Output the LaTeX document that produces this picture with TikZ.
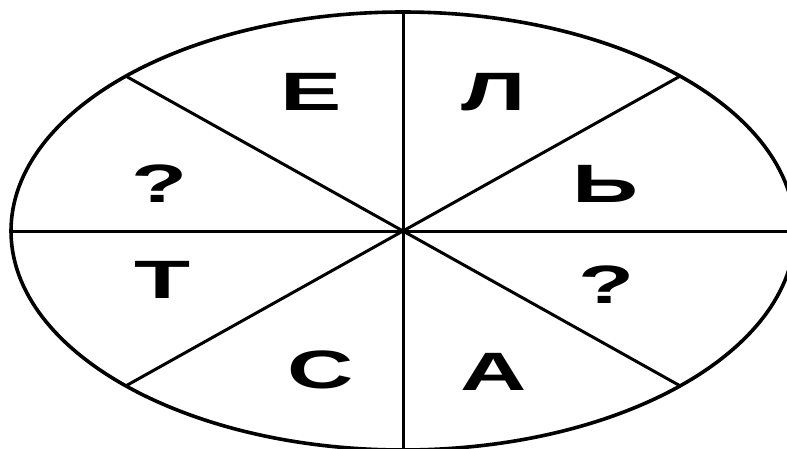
\documentclass[tikz,border=0pt]{standalone}
\usepackage{fontspec}
\newfontfamily\letterfont[FakeStretch=1.7]{Liberation Sans}
\begin{document}
\begin{tikzpicture}[x=1pt,y=-1pt,
  ln/.style={line width=3pt,black},
  rim/.style={line width=3.6pt,black},
  lt/.style={inner sep=0pt,anchor=center,font=\letterfont\bfseries\fontsize{54}{54}\selectfont}]
\useasboundingbox (0,0) rectangle (787,448);
\fill[white] (0,0) rectangle (787,448);
\clip (0,0) rectangle (787,448);
\coordinate (c) at (403,231);
\coordinate (top) at (403,12);
\coordinate (bot) at (403,452);
\coordinate (lft) at (11,231);
\coordinate (rgt) at (795,231);
\coordinate (ur) at (680.2,76.1);
\coordinate (ul) at (125.8,76.1);
\coordinate (ll) at (125.8,385.9);
\coordinate (lr) at (680.2,385.9);
\draw[rim] (c) ellipse [x radius=392, y radius=219];
\draw[ln] (top) -- (c) -- (bot);
\draw[ln] (lft) -- (c) -- (rgt);
\draw[ln] (ul) -- (c) -- (lr);
\draw[ln] (ur) -- (c) -- (ll);
\node[lt] (t1) at (311,92) {Е};
\node[lt] (t2) at (494,92) {Л};
\node[lt] (t3) at (605,184) {Ь};
\node[lt] (t4) at (607,285) {?};
\node[lt] (t5) at (494,372) {А};
\node[lt] (t6) at (321,370) {С};
\node[lt] (t7) at (163,280) {Т};
\node[lt] (t8) at (160,184) {?};
\end{tikzpicture}
\end{document}
